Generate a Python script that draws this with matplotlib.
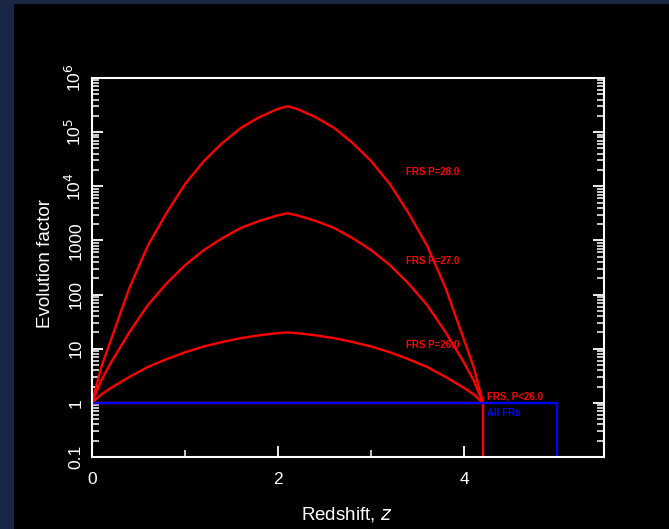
import matplotlib
matplotlib.use('Agg')
import matplotlib.pyplot as plt
from matplotlib.ticker import FixedLocator, LogLocator, NullFormatter

# redshift grid (left branch up to the peak, right branch down to the cutoff)
z_left = [0, 0.1, 0.2, 0.4, 0.6, 0.8, 1.0, 1.2, 1.4, 1.6, 1.8, 2.0, 2.1]
z_right = [2.1, 2.2, 2.4, 2.6, 2.8, 3.0, 3.2, 3.4, 3.6, 3.8, 4.0, 4.1, 4.2]

# evolution factor, P=28.0
e28_left = [1, 4.6, 14, 130, 800, 3200, 1.1e4, 2.9e4, 6.3e4, 1.2e5, 1.9e5, 2.7e5, 3.0e5]
e28_right = [3.0e5, 2.7e5, 1.9e5, 1.2e5, 6.3e4, 2.9e4, 1.1e4, 3200, 800, 130, 14, 4.6, 1]
# P=27.0
e27_left = [1, 2.6, 5.4, 20, 64, 160, 350, 660, 1100, 1700, 2300, 2920, 3160]
e27_right = [3160, 2920, 2300, 1700, 1100, 660, 350, 160, 64, 20, 5.4, 2.6, 1]
# P=26.0
e26_left = [1, 1.43, 1.87, 3.0, 4.6, 6.4, 8.6, 11.0, 13.3, 15.7, 17.7, 19.4, 20]
e26_right = [20, 19.4, 17.7, 15.7, 13.3, 11.0, 8.6, 6.4, 4.6, 3.0, 1.87, 1.43, 1]

# step functions
z_low = [0, 4.2, 4.2]
e_low = [1, 1, 0.1]
z_all = [0, 5.0, 5.0]
e_all = [1, 1, 0.1]

labels = ['FRS P=28.0', 'FRS P=27.0', 'FRS P=26.0']
label_pos = [(3.37, 1.8e4), (3.37, 420), (3.37, 11.5)]

fig = plt.figure(figsize=(6.69, 5.29), dpi=100)
fig.patch.set_facecolor('#1a2644')

# black slide area behind the plot
bg = fig.add_axes([14 / 669, 0, 1 - 14 / 669, 1 - 4 / 529], zorder=-1)
bg.set_facecolor('black')
bg.set_xticks([])
bg.set_yticks([])
for sp in bg.spines.values():
    sp.set_visible(False)

ax = fig.add_axes([92 / 669, 1 - 457 / 529, 512 / 669, 379 / 529])
ax.set_facecolor('black')

red = '#ff0000'
blue = '#0000ff'
for el, er in [(e28_left, e28_right), (e27_left, e27_right), (e26_left, e26_right)]:
    ax.plot(z_left + z_right, el + er, color=red, lw=1.7)
ax.plot(z_low, e_low, color=red, lw=1.7)
ax.plot(z_all, e_all, color=blue, lw=1.7)

for txt, (x, y) in zip(labels, label_pos):
    ax.text(x, y, txt, color=red, fontsize=7, fontweight='bold', family='Liberation Sans',
            va='center')
ax.text(4.24, 1.32, 'FRS, P<26.0', color=red, fontsize=7, fontweight='bold',
        family='Liberation Sans', va='center')
ax.text(4.24, 0.65, 'All FRs', color=blue, fontsize=7, fontweight='bold',
        family='Liberation Sans', va='center')

ax.set_yscale('log')
ax.set_xlim(0, 5.5)
ax.set_ylim(0.1, 1e6)

ax.xaxis.set_major_locator(FixedLocator([0, 2, 4]))
ax.xaxis.set_minor_locator(FixedLocator([1, 3, 5]))
ax.set_xticklabels(['0', '2', '4'])
ax.set_yticks([0.1, 1, 10, 100, 1000, 1e4, 1e5, 1e6])
ax.set_yticklabels(['0.1', '1', '10', '100', '1000', r'10$^4$', r'10$^5$', r'10$^6$'])
ax.yaxis.set_minor_locator(LogLocator(base=10, subs=range(2, 10), numticks=20))
ax.yaxis.set_minor_formatter(NullFormatter())

ax.tick_params(which='both', direction='in', colors='white', right=True, top=False)
ax.tick_params(which='major', length=8, width=1.3, labelsize=12.5)
ax.tick_params(which='minor', length=5, width=1.1)
ax.tick_params(axis='x', pad=11)
ax.tick_params(axis='y', pad=6)
for lab in ax.get_yticklabels():
    lab.set_rotation(90)
    lab.set_va('center')
    lab.set_family('Liberation Sans')
for lab in ax.get_xticklabels():
    lab.set_family('Liberation Sans')
for sp in ax.spines.values():
    sp.set_color('white')
    sp.set_linewidth(1.5)

ax.set_ylabel('Evolution factor', color='white', fontsize=13.5, family='Liberation Sans')
ax.yaxis.set_label_coords(-0.074, 0.51)
ax.set_xlabel('Redshift, $\\it{z}$', color='white', fontsize=13.5, family='Liberation Sans')
ax.xaxis.set_label_coords(0.498, -0.127)

fig.savefig('out.png', dpi=100, facecolor=fig.get_facecolor())
